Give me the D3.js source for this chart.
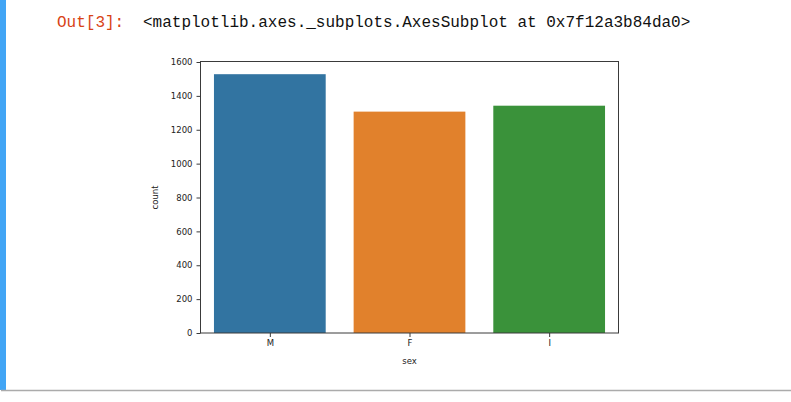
<!DOCTYPE html>
<html>
<head>
<meta charset="utf-8">
<script src="https://cdn.jsdelivr.net/npm/d3@7"></script>
<style>
  html, body { margin: 0; padding: 0; background: #fff; }
  svg { display: block; }
</style>
</head>
<body>
<svg id="chart" width="791" height="402"></svg>
<script>
// ---- data ----
const categories = ["M", "F", "I"];
const counts = [1528, 1307, 1342];
const barColors = ["#3274a1", "#e1812c", "#3a923a"];
const yTicks = [0, 200, 400, 600, 800, 1000, 1200, 1400, 1600];
const promptText = "Out[3]:";
const outputText = "<matplotlib.axes._subplots.AxesSubplot at 0x7f12a3b84da0>";
const xLabel = "sex";
const yLabel = "count";

const svg = d3.select("#chart");

// notebook chrome
svg.append("rect").attr("x", 0).attr("y", 0).attr("width", 6).attr("height", 390).attr("fill", "#42a5f5");
svg.append("line").attr("x1", 1).attr("x2", 791).attr("y1", 390.5).attr("y2", 390.5)
  .attr("stroke", "#ababab").attr("stroke-width", 1.5);
svg.append("text").attr("x", 57).attr("y", 27).text(promptText)
  .attr("font-family", "Liberation Mono, DejaVu Sans Mono, monospace").attr("font-size", 16)
  .attr("fill", "#d84315");
svg.append("text").attr("x", 143).attr("y", 27).text(outputText)
  .attr("font-family", "Liberation Mono, DejaVu Sans Mono, monospace").attr("font-size", 16)
  .attr("fill", "#111");

// plot area
const pLeft = 200, pRight = 619, pTop = 62, pBottom = 333;
const x = d3.scaleBand().domain(categories).range([pLeft, pRight]).paddingInner(0.2).paddingOuter(0.1);
const y = d3.scaleLinear().domain([0, 1600]).range([pBottom, pTop]);

const g = svg.append("g");
g.selectAll("rect.bar").data(categories).join("rect")
  .attr("class", "bar")
  .attr("x", d => x(d))
  .attr("width", x.bandwidth())
  .attr("y", (d, i) => y(counts[i]))
  .attr("height", (d, i) => y(0) - y(counts[i]))
  .attr("fill", (d, i) => barColors[i]);

// frame
g.append("rect").attr("x", pLeft + 0.5).attr("y", pTop - 0.5).attr("width", pRight - pLeft - 1).attr("height", pBottom - pTop + 0.5)
  .attr("fill", "none").attr("stroke", "#3a3a3a").attr("stroke-width", 1);

const fontFam = "DejaVu Sans, sans-serif";

const yAxis = d3.axisLeft(y).tickValues(yTicks).tickFormat(d3.format("d")).tickSize(4).tickPadding(4);
const ya = g.append("g").attr("transform", `translate(${pLeft + 0.5},0)`).call(yAxis);
ya.select(".domain").remove();
ya.selectAll("line").attr("stroke", "#3a3a3a");
ya.selectAll("text").attr("font-family", fontFam).attr("font-size", 8.5).attr("fill", "#222");

const xAxis = d3.axisBottom(d3.scalePoint().domain(categories).range([x("M") + x.bandwidth() / 2, x("I") + x.bandwidth() / 2]))
  .tickSize(4).tickPadding(3);
const xa = g.append("g").attr("transform", `translate(0,${pBottom})`).call(xAxis);
xa.select(".domain").remove();
xa.selectAll("line").attr("stroke", "#3a3a3a");
xa.selectAll("text").attr("font-family", fontFam).attr("font-size", 8.5).attr("fill", "#222");

svg.append("text").attr("x", (pLeft + pRight) / 2).attr("y", 364).attr("text-anchor", "middle")
  .attr("font-family", fontFam).attr("font-size", 8.5).attr("fill", "#222").text(xLabel);
svg.append("text").attr("transform", `translate(158,${(pTop + pBottom) / 2}) rotate(-90)`).attr("text-anchor", "middle")
  .attr("font-family", fontFam).attr("font-size", 8.5).attr("fill", "#222").text(yLabel);
</script>
</body>
</html>
